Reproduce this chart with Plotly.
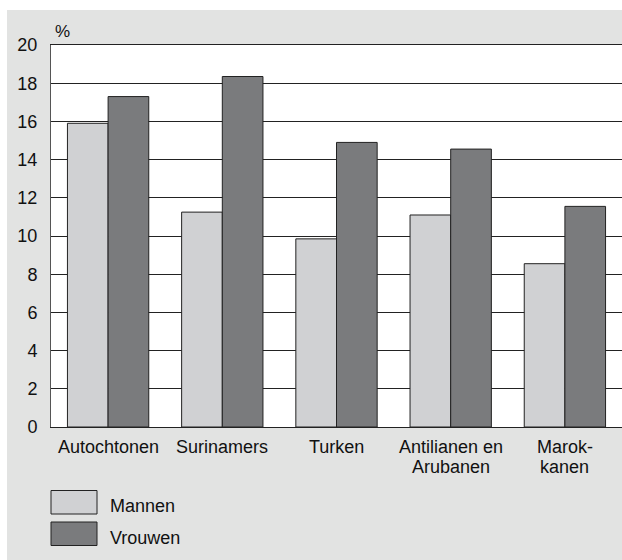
import plotly.graph_objects as go

categories = ["Autochtonen", "Surinamers", "Turken", "Antilianen en<br>Arubanen", "Marok-<br>kanen"]
mannen = [15.9, 11.25, 9.85, 11.1, 8.55]
vrouwen = [17.3, 18.35, 14.9, 14.55, 11.55]
y_ticks = [0, 2, 4, 6, 8, 10, 12, 14, 16, 18, 20]
series_names = ["Mannen", "Vrouwen"]

W, H = 622, 560
L, R, T, B = 51, 0, 45, 133
PW, PH = W - L - R, H - T - B

def px2x(px):
    return (px - L) / PW

def py2y(py):
    return (H - B - py) / PH

FONT = "Liberation Sans, Arial, Helvetica, sans-serif"
C_M = "#d0d1d3"
C_V = "#7a7b7d"
BG = "#e2e3e2"
LINE = "#222222"

xs = list(range(len(categories)))

fig = go.Figure()
fig.add_trace(go.Bar(x=xs, y=mannen, name=series_names[0], marker=dict(color=C_M, line=dict(color=LINE, width=1))))
fig.add_trace(go.Bar(x=xs, y=vrouwen, name=series_names[1], marker=dict(color=C_V, line=dict(color=LINE, width=1))))

annotations = []
for i, cat in enumerate(categories):
    for j, line in enumerate(cat.split("<br>")):
        annotations.append(dict(x=i, xref="x", y=py2y(447 + 20 * j), yref="paper", text=line,
                                showarrow=False, xanchor="center", yanchor="middle",
                                font=dict(family=FONT, size=18, color="#111")))
annotations.append(dict(x=px2x(53), xref="paper", y=py2y(32), yref="paper", text="%",
                        showarrow=False, xanchor="left", yanchor="middle",
                        font=dict(family=FONT, size=17, color="#111")))

shapes = [
    dict(type="rect", xref="paper", yref="paper", x0=px2x(0), x1=px2x(W), y0=py2y(10), y1=py2y(0),
         fillcolor="white", line=dict(width=0), layer="below"),
    dict(type="rect", xref="paper", yref="paper", x0=px2x(0), x1=px2x(7), y0=py2y(H), y1=py2y(0),
         fillcolor="white", line=dict(width=0), layer="below"),
]
legend_rows = [(490.5, 514, C_M), (522, 545.5, C_V)]
for (y0, y1, col), name in zip(legend_rows, series_names):
    shapes.append(dict(type="rect", xref="paper", yref="paper", x0=px2x(51), x1=px2x(97),
                       y0=py2y(y1), y1=py2y(y0), fillcolor=col, line=dict(color=LINE, width=1)))
    annotations.append(dict(x=px2x(108), xref="paper", y=py2y((y0 + y1) / 2 + 4), yref="paper", text=name,
                            showarrow=False, xanchor="left", yanchor="middle",
                            font=dict(family=FONT, size=18, color="#111")))

fig.update_layout(
    width=W, height=H,
    margin=dict(l=L, r=R, t=T, b=B, pad=0),
    paper_bgcolor=BG, plot_bgcolor="white",
    barmode="group", bargap=0.288, bargroupgap=0,
    showlegend=False,
    font=dict(family=FONT, size=18, color="#111"),
    xaxis=dict(range=[-0.5, 4.5], showticklabels=False, ticks="", showgrid=False,
               showline=True, mirror=True, linecolor=LINE, linewidth=1, zeroline=False, fixedrange=True),
    yaxis=dict(range=[0, 20], tickvals=y_ticks, ticks="", ticklabelstandoff=9,
               showgrid=True, gridcolor=LINE, gridwidth=1, zeroline=False,
               showline=True, linecolor="#555555", linewidth=1,
               tickfont=dict(family=FONT, size=18, color="#111"), fixedrange=True),
    shapes=shapes, annotations=annotations,
)

fig.write_html("out.html", config={"displayModeBar": False},
               post_script="document.body.style.margin='0';document.body.style.overflow='hidden';")
